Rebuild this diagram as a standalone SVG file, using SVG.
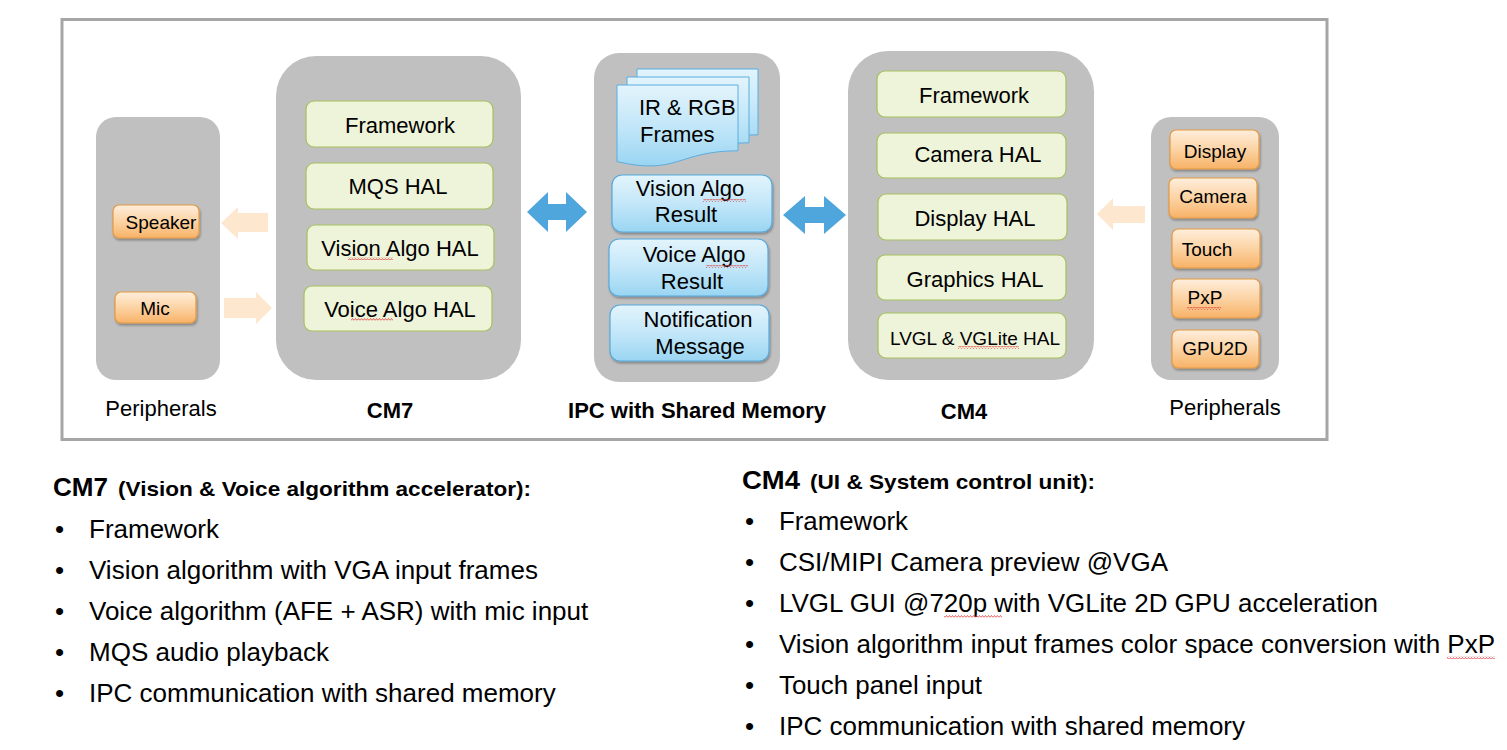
<svg xmlns="http://www.w3.org/2000/svg" width="1507" height="750" viewBox="0 0 1507 750">
<defs>
<style>
text{font-family:"Liberation Sans",Arial,sans-serif;fill:#000}
.gray{fill:#c0c0c0}
.grn{fill:#eef4d9;stroke:#a5c05e;stroke-width:1.2}
.org{fill:url(#og);stroke:#e39a43;stroke-width:1.2;filter:url(#sh)}
.blu{fill:url(#bg);stroke:#55a9dc;stroke-width:1.2;filter:url(#sh)}
.doc{fill:url(#bg);stroke:#5aaee0;stroke-width:1}
.t22{font-size:22px;text-anchor:middle}
.t19{font-size:19px;text-anchor:middle}
.lbl{font-size:22px;text-anchor:middle}
.b{font-weight:bold}
.bl{font-size:26px}
.sq{fill:url(#squig)}
.pa{fill:#fde7cf}
.ba{fill:#4ea6dc}
</style>
<linearGradient id="og" x1="0" y1="0" x2="0" y2="1">
<stop offset="0" stop-color="#feeedc"/><stop offset="0.5" stop-color="#fcd3a4"/><stop offset="1" stop-color="#f7b267"/>
</linearGradient>
<linearGradient id="bg" x1="0" y1="0" x2="0" y2="1">
<stop offset="0" stop-color="#e3f4fc"/><stop offset="0.5" stop-color="#c3e7f9"/><stop offset="1" stop-color="#9ad5f2"/>
</linearGradient>
<filter id="sh" x="-10%" y="-10%" width="120%" height="130%">
<feDropShadow dx="1" dy="2" stdDeviation="1.2" flood-color="#000" flood-opacity="0.3"/>
</filter>
<pattern id="squig" width="3" height="3" patternUnits="userSpaceOnUse">
<path d="M0,2.5 L1.5,0.5 L3,2.5" fill="none" stroke="#e03b3b" stroke-width="0.8"/>
</pattern>
</defs>

<rect x="62" y="19.5" width="1265" height="420" fill="#fff" stroke="#a6a6a6" stroke-width="3"/>

<g id="periph-left">
<rect class="gray" x="96" y="117" width="124" height="263" rx="20"/>
<g id="speaker"><rect class="org" x="113" y="205" width="86" height="33" rx="6"/><text class="t19" x="161" y="229">Speaker</text></g>
<g id="mic"><rect class="org" x="115" y="292" width="81" height="31" rx="6"/><text class="t19" x="155" y="315">Mic</text></g>
<text class="lbl" x="161" y="416">Peripherals</text>
</g>

<g id="cm7">
<rect class="gray" x="276" y="56" width="245" height="324" rx="40"/>
<rect class="grn" x="306" y="101" width="187" height="46" rx="8"/><text class="t22" x="400" y="133">Framework</text>
<rect class="grn" x="306" y="163" width="187" height="46" rx="8"/><text class="t22" x="398" y="194">MQS HAL</text>
<rect class="grn" x="307" y="225" width="187" height="45" rx="8"/><text class="t22" x="400" y="256">Vision Algo HAL</text>
<rect class="sq" x="348" y="257" width="45" height="3"/>
<rect class="grn" x="304" y="286" width="188" height="45" rx="8"/><text class="t22" x="400" y="317">Voice Algo HAL</text>
<rect class="sq" x="351" y="318" width="42" height="3"/>
<text class="lbl b" x="390" y="418">CM7</text>
</g>

<g id="ipc">
<rect class="gray" x="594" y="53" width="186" height="329" rx="25"/>
<g id="frames">
<path class="doc" d="M637,69 H758 V134.8 C697.5,134.8 697.5,159.8 637,145.6 Z"/>
<path class="doc" d="M627,77 H749 V142.8 C688,142.8 688,167.8 627,153.6 Z"/>
<path class="doc" d="M617,85 H738 V150.8 C677.5,150.8 677.5,175.8 617,161.6 Z"/>
<text x="639" y="115" style="font-size:22px">IR &amp; RGB</text>
<text x="640" y="142" style="font-size:22px">Frames</text>
</g>
<g id="vision-result"><rect class="blu" x="612" y="175" width="160" height="57" rx="10"/>
<text class="t22" x="690" y="196">Vision Algo</text><text class="t22" x="686" y="222">Result</text>
<rect class="sq" x="703" y="199" width="43" height="3"/></g>
<g id="voice-result"><rect class="blu" x="609" y="239" width="159" height="57" rx="10"/>
<text class="t22" x="694" y="262">Voice Algo</text><text class="t22" x="692" y="289">Result</text>
<rect class="sq" x="706" y="265" width="42" height="3"/></g>
<g id="notification"><rect class="blu" x="610" y="305" width="159" height="56" rx="10"/>
<text class="t22" x="698" y="327">Notification</text><text class="t22" x="700" y="354">Message</text></g>
<text class="lbl b" x="697" y="418">IPC with Shared Memory</text>
</g>

<g id="cm4">
<rect class="gray" x="848" y="51" width="246" height="329" rx="40"/>
<rect class="grn" x="877" y="71" width="189" height="46" rx="8"/><text class="t22" x="974" y="103">Framework</text>
<rect class="grn" x="877" y="133" width="189" height="45" rx="8"/><text class="t22" x="978" y="162">Camera HAL</text>
<rect class="grn" x="878" y="194" width="189" height="46" rx="8"/><text class="t22" x="975" y="226">Display HAL</text>
<rect class="grn" x="877" y="255" width="189" height="45" rx="8"/><text class="t22" x="975" y="287">Graphics HAL</text>
<rect class="grn" x="878" y="313" width="188" height="45" rx="8"/><text class="t19" x="975" y="345">LVGL &amp; VGLite HAL</text>
<rect class="sq" x="958" y="346" width="61" height="3"/>
<text class="lbl b" x="964" y="419">CM4</text>
</g>

<g id="periph-right">
<rect class="gray" x="1151" y="117" width="128" height="263" rx="20"/>
<g id="display"><rect class="org" x="1170" y="130" width="89" height="39" rx="6"/><text class="t19" x="1215" y="158">Display</text></g>
<g id="camera"><rect class="org" x="1169" y="178" width="88" height="40" rx="6"/><text class="t19" x="1213" y="203">Camera</text></g>
<g id="touch"><rect class="org" x="1172" y="229" width="88" height="39" rx="6"/><text class="t19" x="1207" y="256">Touch</text></g>
<g id="pxp"><rect class="org" x="1172" y="279" width="88" height="39" rx="6"/><text class="t19" x="1205" y="304">PxP</text>
<rect class="sq" x="1187" y="307" width="34" height="3"/></g>
<g id="gpu2d"><rect class="org" x="1172" y="330" width="87" height="38" rx="6"/><text class="t19" x="1215" y="355">GPU2D</text></g>
<text class="lbl" x="1225" y="415">Peripherals</text>
</g>

<g id="connectors">
<polygon class="pa" points="221,223 238,207 238,213 268,213 268,232 238,232 238,239"/>
<polygon class="pa" points="224,298 256,298 256,292 272,308 256,324 256,318 224,318"/>
<polygon class="ba" points="527,212 548,192 548,204 566,204 566,192 587,212 566,232 566,220 548,220 548,232"/>
<polygon class="ba" points="783,215 805,196 805,207 824,207 824,196 846,215 824,234 824,223 805,223 805,234"/>
<polygon class="pa" points="1097,214 1113,198 1113,206 1145,206 1145,223 1113,223 1113,230"/>
</g>

<g id="cm7-notes">
<text x="53" y="496" style="font-size:25px" class="b" textLength="55" lengthAdjust="spacingAndGlyphs">CM7</text>
<text x="118" y="496" style="font-size:21px" class="b" textLength="413" lengthAdjust="spacingAndGlyphs">(Vision &amp; Voice algorithm accelerator):</text>
<text x="55" y="538" class="bl">•</text><text x="89" y="538" class="bl">Framework</text>
<text x="55" y="579" class="bl">•</text><text x="89" y="579" class="bl">Vision algorithm with VGA input frames</text>
<text x="55" y="620" class="bl">•</text><text x="89" y="620" class="bl">Voice algorithm (AFE + ASR) with mic input</text>
<text x="55" y="661" class="bl">•</text><text x="89" y="661" class="bl">MQS audio playback</text>
<text x="55" y="702" class="bl">•</text><text x="89" y="702" class="bl">IPC communication with shared memory</text>
</g>

<g id="cm4-notes">
<text x="742" y="489" style="font-size:26px" class="b" textLength="58" lengthAdjust="spacingAndGlyphs">CM4</text>
<text x="810" y="489" style="font-size:21px" class="b" textLength="285" lengthAdjust="spacingAndGlyphs">(UI &amp; System control unit):</text>
<text x="745" y="530" class="bl">•</text><text x="779" y="530" class="bl" textLength="129" lengthAdjust="spacingAndGlyphs">Framework</text>
<text x="745" y="571" class="bl">•</text><text x="779" y="571" class="bl" textLength="389" lengthAdjust="spacingAndGlyphs">CSI/MIPI Camera preview @VGA</text>
<text x="745" y="612" class="bl">•</text><text x="779" y="612" class="bl" textLength="599" lengthAdjust="spacingAndGlyphs">LVGL GUI @720p with VGLite 2D GPU acceleration</text>
<rect class="sq" x="944" y="615" width="58" height="3"/>
<text x="745" y="653" class="bl">•</text><text x="779" y="653" class="bl" textLength="716" lengthAdjust="spacingAndGlyphs">Vision algorithm input frames color space conversion with PxP</text>
<rect class="sq" x="1447" y="656" width="48" height="3"/>
<text x="745" y="694" class="bl">•</text><text x="779" y="694" class="bl" textLength="203" lengthAdjust="spacingAndGlyphs">Touch panel input</text>
<text x="745" y="735" class="bl">•</text><text x="779" y="735" class="bl" textLength="466" lengthAdjust="spacingAndGlyphs">IPC communication with shared memory</text>
</g>
</svg>
